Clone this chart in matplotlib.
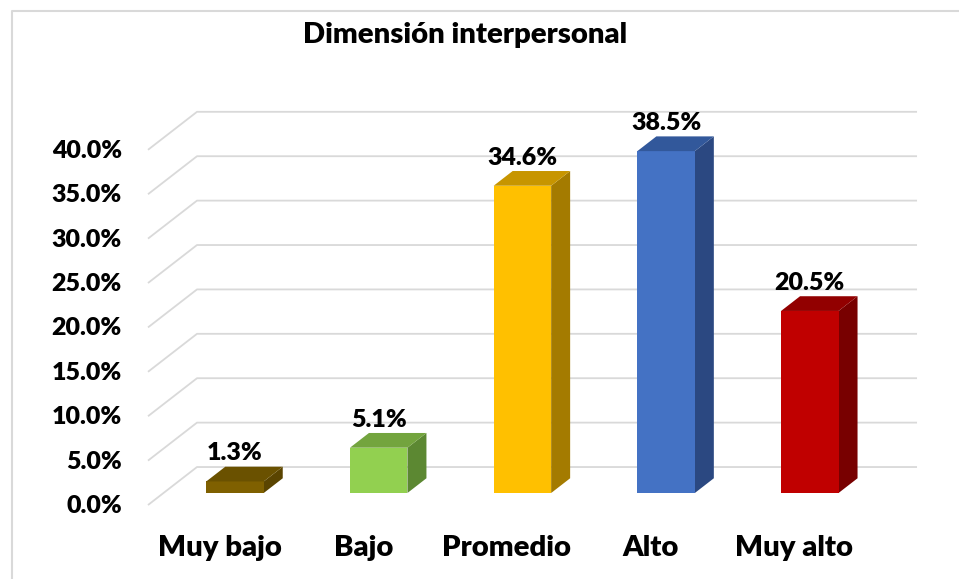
import matplotlib
matplotlib.use('Agg')
import matplotlib.pyplot as plt
from matplotlib.patches import Polygon
from matplotlib.lines import Line2D
from matplotlib.transforms import offset_copy

# ---------------- data ----------------
title = 'Dimensión interpersonal'
categories = ['Muy bajo', 'Bajo', 'Promedio', 'Alto', 'Muy alto']
values = [1.3, 5.1, 34.6, 38.5, 20.5]
value_labels = ['1.3%', '5.1%', '34.6%', '38.5%', '20.5%']
yticks = [0, 5, 10, 15, 20, 25, 30, 35, 40]
ytick_labels = ['0.0%', '5.0%', '10.0%', '15.0%', '20.0%', '25.0%', '30.0%', '35.0%', '40.0%']

front_colors = ['#7F6000', '#92D050', '#FFC000', '#4472C4', '#C00000']
top_colors = ['#6A5100', '#73A43E', '#C79500', '#32589B', '#920000']
side_colors = ['#5A4400', '#5C8832', '#A47B00', '#2B4881', '#780000']

FONT = 'Lato'
WEIGHT = 'heavy'
GRID = '#D9D9D9'

# ---------------- layout (pixel based) ----------------
W, H = 959, 579
PX_CAT = 143.7     # px per category
PX_PCT = 8.88      # px per percent
X0PX, Y0PX = 235, 493
DXD = 49 / PX_CAT   # full depth offset (data units)
DYD = 38 / PX_PCT
T0 = 15.5 / 49      # bar front depth fraction
T1 = T0 + 19 / 49   # bar back depth fraction
XL = -0.4976        # left wall
XR = 4.513          # right end of back wall
BW = 0.40

fig = plt.figure(figsize=(W / 100, H / 100), dpi=100)
ax = fig.add_axes([0, 0, 1, 1])
ax.set_xlim((0 - X0PX) / PX_CAT, (W - X0PX) / PX_CAT)
ax.set_ylim((Y0PX - H) / PX_PCT, Y0PX / PX_PCT)
ax.axis('off')


def proj(x, v, t):
    return (x + (t - T0) * DXD, v + (t - T0) * DYD)


# gridlines (left wall + back wall)
for v in yticks:
    p0 = proj(XL, v, 0)
    p1 = proj(XL, v, 1)
    p2 = proj(XR, v, 1)
    ax.plot([p0[0], p1[0], p2[0]], [p0[1], p1[1], p2[1]], color=GRID,
            lw=1.3, zorder=1, solid_capstyle='butt')

# bars (front faces)
xs = list(range(len(categories)))
ax.bar(xs, values, width=BW, color=front_colors, zorder=3, linewidth=0)

# top and side faces
for i, v in enumerate(values):
    l, r = i - BW / 2, i + BW / 2
    top = [proj(l, v, T0), proj(r, v, T0), proj(r, v, T1), proj(l, v, T1)]
    side = [proj(r, 0, T0), proj(r, 0, T1), proj(r, v, T1), proj(r, v, T0)]
    ax.add_patch(Polygon(side, closed=True, facecolor=side_colors[i], edgecolor='none', zorder=2.9))
    ax.add_patch(Polygon(top, closed=True, facecolor=top_colors[i], edgecolor='none', zorder=3.1))

fig.canvas.draw()
rend = fig.canvas.get_renderer()


def fit(txt, target):
    w = txt.get_window_extent(rend).width
    txt.set_fontsize(txt.get_fontsize() * target / w)
    return txt.get_fontsize()


# y tick labels
tick_tr = offset_copy(ax.transData, fig=fig, x=-26, y=-1, units='dots')
tick_texts = []
for v, lab in zip(yticks, ytick_labels):
    px, py = proj(XL, v, 0)
    t = ax.text(px, py, lab, transform=tick_tr, ha='right', va='center',
                fontsize=17, fontweight=WEIGHT, family=FONT, color='black')
    tick_texts.append(t)
s = fit(tick_texts[-1], 70)
for t in tick_texts:
    t.set_fontsize(s)

# category labels
cat_tr = offset_copy(ax.transData, fig=fig, x=0, y=-51, units='dots')
cat_texts = []
for i, c in enumerate(categories):
    px, py = proj(i, 0, 0)
    t = ax.text(px, py, c, transform=cat_tr, ha='center', va='baseline',
                fontsize=20, fontweight=WEIGHT, family=FONT, color='black')
    cat_texts.append(t)
s = fit(cat_texts[0], 124)
for t in cat_texts:
    t.set_fontsize(s)

# value labels
val_tr = offset_copy(ax.transData, fig=fig, x=0, y=21, units='dots')
val_texts = []
for i, (v, lab) in enumerate(zip(values, value_labels)):
    t = ax.text(i, v, lab, transform=val_tr, ha='center', va='baseline',
                fontsize=17, fontweight=WEIGHT, family=FONT, color='black', zorder=5)
    val_texts.append(t)
s = fit(val_texts[2], 70)
for t in val_texts:
    t.set_fontsize(s)

# title
tt = fig.text(465.5 / W, 1 - 43 / H, title, ha='center', va='baseline',
              fontsize=20, fontweight=WEIGHT, family=FONT, color='black')
fit(tt, 325)

# chart frame (left and top edges visible)
fig.add_artist(Line2D([11.5 / W, 11.5 / W, 1], [0, 1 - 10.5 / H, 1 - 10.5 / H],
                      transform=fig.transFigure, color=GRID, lw=1.5))

fig.savefig('out.png', dpi=100)
